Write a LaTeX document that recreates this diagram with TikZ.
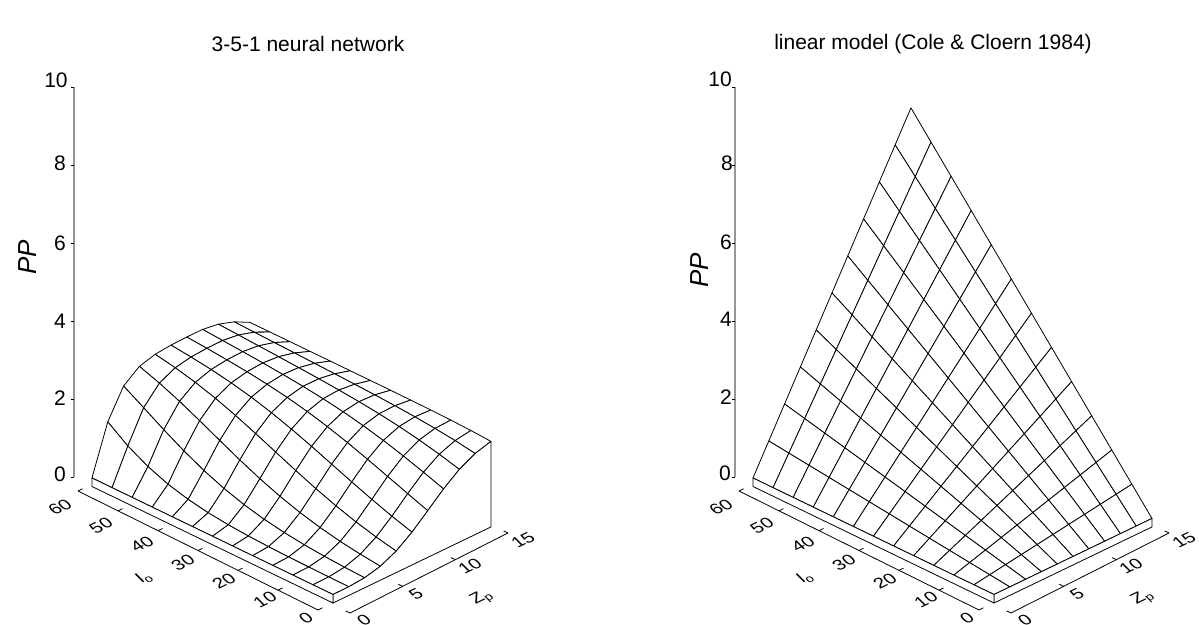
\documentclass[tikz,border=0pt]{standalone}
\usepackage{fontspec}
\setmainfont{Liberation Sans}
\tikzset{
  meshface/.style={fill=white,draw=black,line width=0.8pt,line join=round},
  vaxis/.style={draw={rgb,255:red,150;green,150;blue,150},line width=1.6pt},
  axisline/.style={draw=black,line width=0.8pt},
  ztick/.style={font=\fontsize{21}{21}\selectfont,inner sep=0pt},
  basetext/.style={font=\fontsize{24}{24}\selectfont,inner sep=0pt,transform shape},
  ptitle/.style={font=\fontsize{21}{21}\selectfont,inner sep=0pt},
  plabel/.style={font=\fontsize{26}{26}\selectfont\itshape,inner sep=0pt,rotate=90}
}
\newcommand\btxt[4]{\begin{scope}[shift={(#1pt,-#2pt)},cm={0.708,0.340,-0.50,0.50,(0,0)}]\node[basetext] (#4) {#3};\end{scope}}
\begin{document}
\begin{tikzpicture}[x=1pt,y=-1pt,
  declare function={
    lamf(\u)=10.3-8.3*\u;
    pf(\u)=3.2-2.0*\u;
    hf(\u,\z)=2.05+0.4*\u-0.0164*\u*(max(0,\z-10))^2;
    zl(\i,\z)=hf(\i/60,\z)*(1-exp(-exp(pf(\i/60)*ln(max(\z,0.01)/lamf(\i/60)))));
    zr(\i,\z)=0.00838*\i*\z;
  }]
\fill[white] (0,0) rectangle (1199,624);
\useasboundingbox (0,0) rectangle (1199,624);

% titles
\node[ptitle] (t1) at (308,44) {3-5-1 neural network};
\node[ptitle] (t2) at (933,44) {linear model (Cole \& Cloern 1984)};

% ---------- LEFT PLOT ----------
\draw[vaxis] (74,477) -- (74,87);
\foreach \k in {0,...,5} \draw[axisline] (70.5,{477-78*\k}) -- (74,{477-78*\k});
\node[ztick] (l0) at (60,474) {0};
\node[ztick] (l2) at (60,398) {2};
\node[ztick] (l4) at (60,321) {4};
\node[ztick] (l6) at (60,243) {6};
\node[ztick] (l8) at (60,163) {8};
\node[ztick] (l10) at (56,80) {10};
\node[plabel] (pp1) at (28,257) {PP};

\draw[axisline] (78,491) -- (318,610);
\foreach \k in {0,...,6} \draw[axisline] ({78+40*\k},{491+19.83*\k}) -- ++(4.5,-2.2);
\draw[axisline] (350,613) -- (508,533);
\foreach \k in {0,...,3} \draw[axisline] ({350+52.67*\k},{613-26.67*\k}) -- ++(-4.4,-2.1);

\btxt{60}{507}{60}{li60}
\btxt{101}{525.5}{50}{li50}
\btxt{142}{544}{40}{li40}
\btxt{183}{562.5}{30}{li30}
\btxt{224}{581}{20}{li20}
\btxt{265}{599.5}{10}{li10}
\btxt{306}{618}{0}{li0}
\btxt{144}{578}{I\textsubscript{o}}{lio}
\btxt{364}{620}{0}{lz0}
\btxt{416}{594}{5}{lz5}
\btxt{470}{566}{10}{lz10}
\btxt{523}{540}{15}{lz15}
\btxt{482}{598}{Z\textsubscript{p}}{lzp}

\begin{scope}[shift={(333pt,-594.5pt)},x={(-4.017pt,1.942pt)},y={(10.53pt,5.07pt)},z={(0pt,39pt)}]
  \foreach \i in {11,10,...,0}{
    \foreach \j in {9,8,...,0}{
      \pgfmathsetmacro\Ia{5*\i}\pgfmathsetmacro\Ib{5*\i+5}
      \pgfmathsetmacro\Za{1.5*\j}\pgfmathsetmacro\Zb{1.5*\j+1.5}
      \pgfmathsetmacro\zaa{zl(\Ia,\Za)}\pgfmathsetmacro\zba{zl(\Ib,\Za)}
      \pgfmathsetmacro\zbb{zl(\Ib,\Zb)}\pgfmathsetmacro\zab{zl(\Ia,\Zb)}
      \filldraw[meshface] (\Ia,\Za,\zaa) -- (\Ib,\Za,\zba) -- (\Ib,\Zb,\zbb) -- (\Ia,\Zb,\zab) -- cycle;
    }
  }
  \filldraw[meshface] (0,0,-0.218) \foreach \k in {0,...,10}{ -- (0,{1.5*\k},{zl(0,1.5*\k)}) } -- (0,15,-0.218) -- cycle;
  \filldraw[meshface] (0,0,0) -- (60,0,0) -- (60,0,-0.218) -- (0,0,-0.218) -- cycle;
\end{scope}

% ---------- RIGHT PLOT ----------
\draw[vaxis] (735,477) -- (735,87);
\foreach \k in {0,...,5} \draw[axisline] (731.5,{477-78*\k}) -- (735,{477-78*\k});
\node[ztick] (r0) at (725,473) {0};
\node[ztick] (r2) at (726,397) {2};
\node[ztick] (r4) at (726,319) {4};
\node[ztick] (r6) at (726,242) {6};
\node[ztick] (r8) at (727,163) {8};
\node[ztick] (r10) at (720,79) {10};
\node[plabel] (pp2) at (700,270) {PP};

\draw[axisline] (739,491) -- (979,610);
\foreach \k in {0,...,6} \draw[axisline] ({739+40*\k},{491+19.83*\k}) -- ++(4.5,-2.2);
\draw[axisline] (1011,613) -- (1169,533);
\foreach \k in {0,...,3} \draw[axisline] ({1011+52.67*\k},{613-26.67*\k}) -- ++(-4.4,-2.1);

\btxt{721}{507}{60}{ri60}
\btxt{762}{525.5}{50}{ri50}
\btxt{803}{544}{40}{ri40}
\btxt{844}{562.5}{30}{ri30}
\btxt{885}{581}{20}{ri20}
\btxt{926}{599.5}{10}{ri10}
\btxt{967}{618}{0}{ri0}
\btxt{805}{578}{I\textsubscript{o}}{rio}
\btxt{1025}{620}{0}{rz0}
\btxt{1077}{594}{5}{rz5}
\btxt{1131}{566}{10}{rz10}
\btxt{1184}{540}{15}{rz15}
\btxt{1143}{598}{Z\textsubscript{p}}{rzp}

\begin{scope}[shift={(994pt,-594.5pt)},x={(-4.017pt,1.942pt)},y={(10.53pt,5.07pt)},z={(0pt,39pt)}]
  \foreach \i in {11,10,...,0}{
    \foreach \j in {9,8,...,0}{
      \pgfmathsetmacro\Ia{5*\i}\pgfmathsetmacro\Ib{5*\i+5}
      \pgfmathsetmacro\Za{1.5*\j}\pgfmathsetmacro\Zb{1.5*\j+1.5}
      \pgfmathsetmacro\zaa{zr(\Ia,\Za)}\pgfmathsetmacro\zba{zr(\Ib,\Za)}
      \pgfmathsetmacro\zbb{zr(\Ib,\Zb)}\pgfmathsetmacro\zab{zr(\Ia,\Zb)}
      \filldraw[meshface] (\Ia,\Za,\zaa) -- (\Ib,\Za,\zba) -- (\Ib,\Zb,\zbb) -- (\Ia,\Zb,\zab) -- cycle;
    }
  }
  \filldraw[meshface] (0,0,0) -- (0,15,0) -- (0,15,-0.218) -- (0,0,-0.218) -- cycle;
  \filldraw[meshface] (0,0,0) -- (60,0,0) -- (60,0,-0.218) -- (0,0,-0.218) -- cycle;
\end{scope}
\end{tikzpicture}
\end{document}
